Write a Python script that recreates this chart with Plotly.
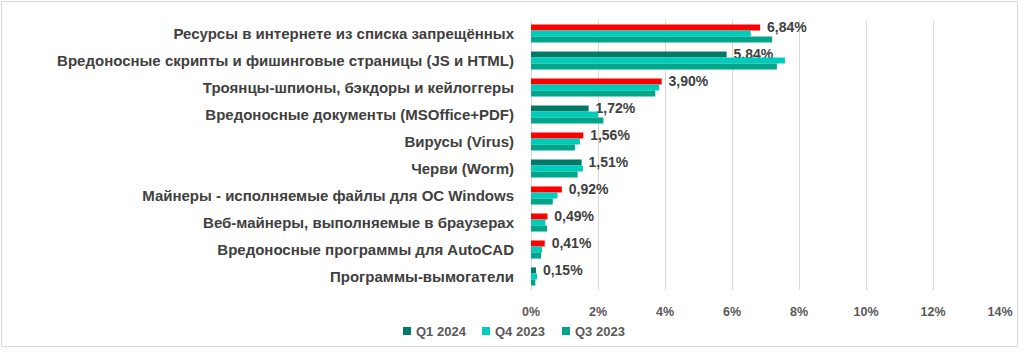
import plotly.graph_objects as go

categories = [
    "Ресурсы в интернете из списка запрещённых",
    "Вредоносные скрипты и фишинговые страницы (JS и HTML)",
    "Троянцы-шпионы, бэкдоры и кейлоггеры",
    "Вредоносные документы (MSOffice+PDF)",
    "Вирусы (Virus)",
    "Черви (Worm)",
    "Майнеры - исполняемые файлы для ОС Windows",
    "Веб-майнеры, выполняемые в браузерах",
    "Вредоносные программы для AutoCAD",
    "Программы-вымогатели",
]
q1_2024 = [6.84, 5.84, 3.90, 1.72, 1.56, 1.51, 0.92, 0.49, 0.41, 0.15]
q4_2023 = [6.56, 7.58, 3.83, 2.00, 1.46, 1.55, 0.79, 0.43, 0.33, 0.18]
q3_2023 = [7.20, 7.34, 3.71, 2.16, 1.31, 1.39, 0.65, 0.48, 0.30, 0.13]
series_names = ["Q1 2024", "Q4 2023", "Q3 2023"]
x_ticks = [0, 2, 4, 6, 8, 10, 12, 14]

C_Q1 = "#007A68"
C_Q4 = "#00CCBB"
C_Q3 = "#00A58A"
C_UP = "#FF0000"
TXT = "#404040"
TXT2 = "#595959"
FONT = "Liberation Sans, Arial, sans-serif"

q1_colors = [C_UP if a > b else C_Q1 for a, b in zip(q1_2024, q4_2023)]
q1_text = ["\u00a0" + f"{v:.2f}%".replace(".", ",") for v in q1_2024]

fig = go.Figure()
fig.add_trace(go.Bar(
    y=categories, x=q1_2024, orientation="h", name=series_names[0],
    marker=dict(color=q1_colors, line=dict(width=0)),
    text=q1_text, textposition="outside", cliponaxis=False, constraintext="none",
    textfont=dict(size=14, color=TXT, family=FONT, weight="bold"),
    showlegend=False,
))
fig.add_trace(go.Bar(
    y=categories, x=q4_2023, orientation="h", name=series_names[1],
    marker=dict(color=C_Q4, line=dict(width=0)), showlegend=False,
))
fig.add_trace(go.Bar(
    y=categories, x=q3_2023, orientation="h", name=series_names[2],
    marker=dict(color=C_Q3, line=dict(width=0)), showlegend=False,
))

W, H = 1024, 356
ml, mr, mt, mb = 531, 24, 20, 66
pw = W - ml - mr
ph = H - mt - mb


def px_x(v):
    return (v - ml) / pw


def px_y(v):
    return (H - mb - v) / ph


fig.update_layout(
    width=W, height=H,
    margin=dict(l=ml, r=mr, t=mt, b=mb, autoexpand=False),
    paper_bgcolor="white", plot_bgcolor="white",
    barmode="group", bargap=0.33, bargroupgap=0,
    font=dict(family=FONT, color=TXT),
    showlegend=False,
    xaxis=dict(range=[0, 14], tickvals=x_ticks,
               ticktext=[f"{t}%" for t in x_ticks],
               showgrid=True, gridcolor="#D9D9D9", gridwidth=1,
               zeroline=True, zerolinecolor="#D9D9D9", zerolinewidth=1,
               showline=False, ticks="", ticklabelstandoff=12,
               tickfont=dict(size=12.5, color=TXT2, family=FONT, weight="bold"),
               fixedrange=True),
    yaxis=dict(autorange="reversed", showgrid=False, zeroline=False, showline=False,
               ticks="", ticklabelstandoff=16,
               tickfont=dict(size=15, color=TXT, family=FONT, weight="bold"),
               fixedrange=True),
)

# manual legend (square + label), matching the original spacing
legend_colors = [C_Q1, C_Q4, C_Q3]
legend_sq_x = [403, 482, 562]
leg_y = 331
for name, col, sx in zip(series_names, legend_colors, legend_sq_x):
    fig.add_shape(type="rect", xref="paper", yref="paper",
                  x0=px_x(sx), x1=px_x(sx + 8), y0=px_y(leg_y + 4), y1=px_y(leg_y - 4),
                  fillcolor=col, line=dict(width=0))
    fig.add_annotation(xref="paper", yref="paper", x=px_x(sx + 11), y=px_y(leg_y),
                       xanchor="left", yanchor="middle", showarrow=False, text=name,
                       font=dict(size=13, color=TXT2, family=FONT, weight="bold"))

# chart-area border
fig.add_shape(type="rect", xref="paper", yref="paper",
              x0=px_x(1.5), x1=px_x(1017.5), y0=px_y(346.5), y1=px_y(1.5),
              line=dict(color="#D9D9D9", width=1), layer="below")

fig.write_html("out.html", config={"displayModeBar": False},
               post_script="document.body.style.margin='0';")
